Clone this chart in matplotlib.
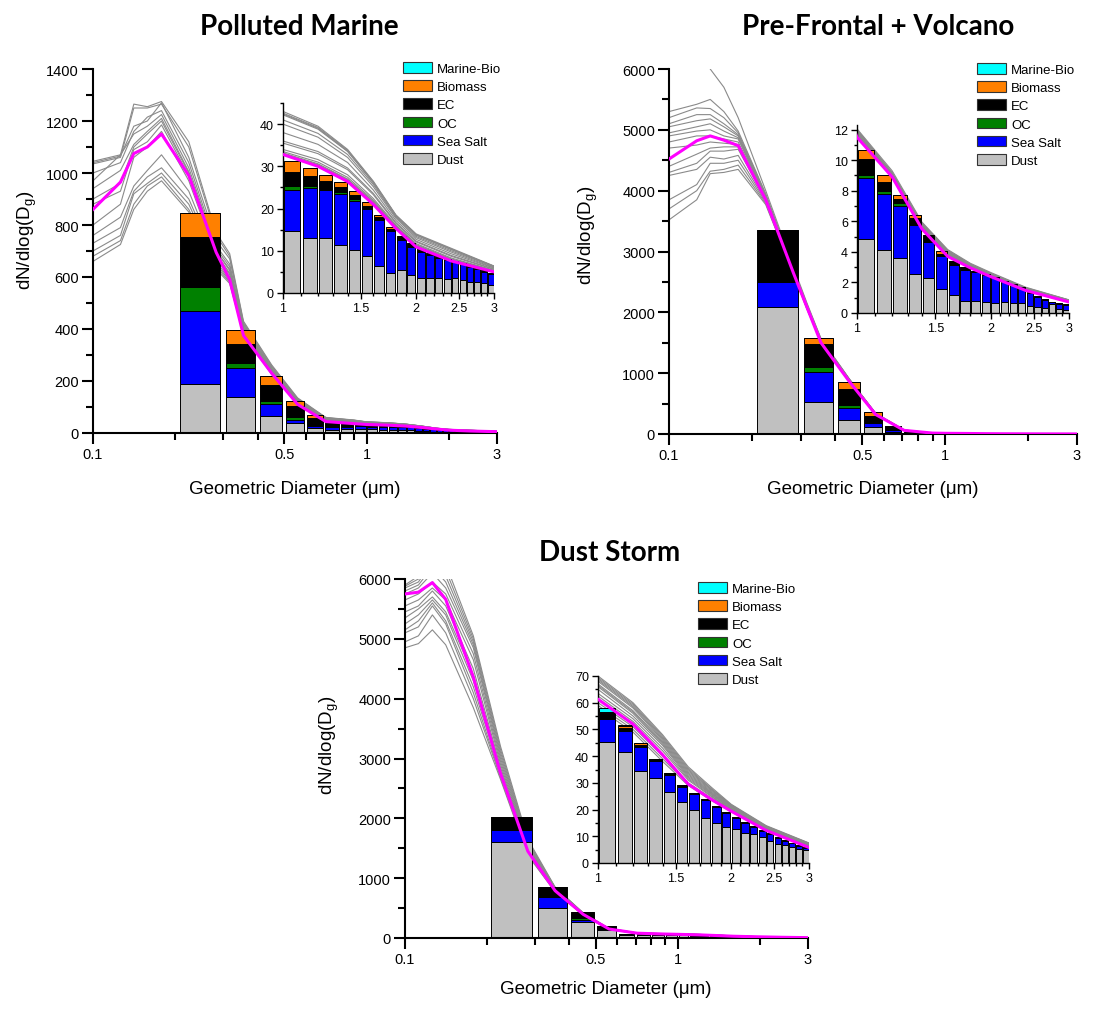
import numpy as np
import matplotlib
matplotlib.use('Agg')
import matplotlib.pyplot as plt
from matplotlib.patches import Patch
from matplotlib.ticker import FixedLocator, FixedFormatter, MultipleLocator, NullFormatter

plt.rcParams['font.family'] = ['Liberation Sans', 'DejaVu Sans']

# size bins (um), 0.1 wide
bin_centers = [0.25, 0.35, 0.45, 0.55, 0.65, 0.75, 0.85, 0.95, 1.05, 1.15, 1.25, 1.35, 1.45, 1.55,
               1.65, 1.75, 1.85, 1.95, 2.05, 2.15, 2.25, 2.35, 2.45, 2.55, 2.65, 2.75, 2.85, 2.95]

# ---- Polluted Marine ----
pm_dust = [187, 138, 65, 38, 19, 13, 14, 14.5, 14.8, 13.0, 13.0, 11.3, 10.1, 8.8, 6.5, 4.8, 5.4, 4.3,
           3.6, 3.5, 3.6, 3.4, 3.5, 3.0, 2.6, 2.6, 2.4, 2.0]
pm_seasalt = [282, 112, 45, 13, 8, 10, 11, 11, 9.7, 11.8, 11.4, 12.2, 11.8, 11.0, 10.7, 9.8, 7.1, 6.6,
              6.2, 5.6, 4.7, 4.4, 3.8, 3.8, 3.5, 3.0, 2.6, 2.4]
pm_oc = [94, 21, 15, 10, 3, 2, 1.5, 1.0, 0.8, 0.6, 0.2, 0.4, 0.4, 0.3, 0.2, 0.1, 0.2, 0.1,
         0.1, 0.05, 0.05, 0.05, 0.05, 0.05, 0.05, 0.05, 0.05, 0.05]
pm_ec = [190, 72, 61, 43, 28, 15, 9, 5, 3.3, 2.4, 2.0, 1.1, 0.9, 0.6, 0.6, 0.5, 0.5, 0.7,
         0.4, 0.2, 0.3, 0.2, 0.2, 0.3, 0.3, 0.4, 0.3, 0.3]
pm_biomass = [92, 55, 35, 21, 10, 4, 3, 3, 2.7, 1.7, 1.3, 1.2, 1.0, 0.8, 0.5, 0.4, 0.3, 0.2,
              0.2, 0.05, 0.05, 0.05, 0.05, 0.05, 0.05, 0.05, 0.05, 0.05]
pm_marine = [0, 0, 0, 0, 0, 0, 0, 0, 0, 0, 0, 0, 0, 0, 0, 0, 0, 0, 0, 0, 0, 0, 0, 0, 0, 0, 0, 0]

pm_d = [0.1, 0.126, 0.141, 0.158, 0.178, 0.224, 0.282, 0.316, 0.355, 0.45, 0.56, 0.71, 0.9,
        1.0, 1.2, 1.4, 1.6, 1.8, 2.0, 2.4, 3.0]
pm_grey = [
    [1045, 1070, 1265, 1255, 1275, 1120, 770, 690, 430, 262, 135, 60, 50, 43.0, 39.5, 34.0, 26.5, 18.5, 14.0, 10.6, 6.4],
    [1040, 1065, 1180, 1200, 1270, 1060, 740, 670, 420, 255, 130, 58, 49, 42.6, 39.2, 33.8, 26.3, 18.4, 13.8, 10.4, 6.3],
    [1000, 1040, 1160, 1215, 1240, 1040, 720, 650, 415, 250, 128, 57, 48, 42.2, 38.8, 33.5, 26.1, 18.3, 13.7, 10.3, 6.3],
    [970, 1070, 1150, 1180, 1225, 1020, 710, 640, 410, 248, 126, 56, 47, 41.0, 37.8, 32.8, 25.7, 18.0, 13.4, 10.0, 6.2],
    [940, 1010, 1110, 1160, 1210, 1005, 700, 630, 405, 245, 125, 55, 46, 40.0, 36.9, 32.1, 25.2, 17.7, 13.1, 9.7, 6.0],
    [900, 960, 1100, 1150, 1200, 1000, 700, 625, 400, 242, 123, 54, 45, 38.0, 35.2, 30.9, 24.4, 17.2, 12.7, 9.3, 5.9],
    [880, 930, 1090, 1120, 1185, 990, 690, 615, 398, 240, 122, 53, 44, 36.0, 33.5, 29.6, 23.6, 16.7, 12.3, 8.9, 5.7],
    [800, 880, 1060, 1100, 1160, 970, 680, 610, 395, 238, 120, 52, 43, 35.5, 33.0, 29.2, 23.3, 16.5, 12.1, 8.7, 5.6],
    [760, 830, 950, 1010, 1070, 930, 670, 600, 392, 235, 118, 51, 42, 34.0, 31.6, 28.0, 22.4, 16.1, 11.7, 8.3, 5.4],
    [730, 790, 930, 985, 1020, 900, 660, 590, 388, 232, 116, 50, 41, 33.5, 31.0, 27.4, 22.0, 15.9, 11.5, 8.1, 5.3],
    [700, 760, 920, 960, 1000, 880, 650, 585, 385, 230, 115, 49, 40, 33.2, 30.6, 27.0, 21.7, 15.7, 11.3, 7.9, 5.2],
    [680, 740, 880, 950, 985, 860, 640, 580, 382, 228, 114, 48, 39, 33.0, 30.4, 26.8, 21.5, 15.6, 11.2, 7.8, 5.1],
    [660, 725, 860, 930, 970, 850, 630, 575, 380, 225, 112, 47, 38, 32.9, 30.2, 26.6, 21.3, 15.5, 11.1, 7.7, 5.1],
    [1035, 1060, 1250, 1250, 1265, 1100, 760, 680, 425, 258, 132, 59, 49, 42.4, 39.0, 33.6, 26.2, 18.3, 13.8, 10.4, 6.3],
]
pm_mean = [860, 965, 1075, 1100, 1150, 990, 695, 590, 375, 230, 110, 44, 36, 32.8, 30.0, 26.4, 21.0, 15.3, 10.9, 7.6, 5.0]

# ---- Pre-Frontal + Volcano ----
pv_dust = [2090, 520, 236, 120, 35, 8, 3, 2.5, 4.84, 4.14, 3.63, 2.54, 2.32, 1.6, 1.21, 0.81, 0.77, 0.7,
           0.68, 0.73, 0.64, 0.64, 0.46, 0.42, 0.35, 0.62, 0.28, 0.2]
pv_seasalt = [410, 505, 191, 61, 25, 10, 7, 6.5, 3.98, 3.66, 3.35, 3.24, 2.3, 2.16, 1.95, 2.03, 1.9, 1.78,
              1.6, 1.33, 1.2, 0.98, 0.88, 0.65, 0.5, 0.08, 0.33, 0.35]
pv_oc = [0, 71, 50, 22, 5, 2, 1, 0.5, 0.18, 0.2, 0.2, 0.05, 0.05, 0.02, 0, 0, 0, 0,
         0, 0, 0, 0, 0, 0, 0, 0, 0, 0]
pv_ec = [855, 383, 263, 87, 60, 15, 6, 3, 1.1, 0.56, 0.27, 0.4, 0.34, 0.1, 0.22, 0.15, 0.1, 0.07,
         0.05, 0.05, 0.05, 0.05, 0.04, 0.05, 0.05, 0.03, 0.03, 0.02]
pv_biomass = [0, 99, 109, 66, 12, 3, 2, 1, 0.54, 0.48, 0.26, 0.15, 0.11, 0.2, 0.05, 0.04, 0, 0,
              0, 0, 0, 0, 0, 0, 0, 0, 0, 0]
pv_marine = [0, 0, 0, 0, 0, 0, 0, 0, 0, 0, 0, 0, 0, 0, 0, 0, 0, 0, 0, 0, 0, 0, 0, 0, 0, 0, 0, 0]

pv_d = [0.1, 0.126, 0.141, 0.158, 0.178, 0.224, 0.282, 0.316, 0.355, 0.45, 0.56, 0.71, 0.9,
        1.0, 1.2, 1.4, 1.6, 1.8, 2.0, 2.4, 3.0]
nan = float('nan')
pv_grey = [
    [5300, 5420, 5500, 5300, 4980, 3950, 2720, 2130, 1560, 900, 340, 66, 16, 12.0, 9.2, 5.9, 4.1, 3.2, 2.6, 1.65, 0.85],
    [5200, 5360, 5350, 5200, 4950, 3930, 2710, 2120, 1555, 898, 338, 65, 16, 11.95, 9.15, 5.85, 4.05, 3.18, 2.58, 1.63, 0.84],
    [5100, 5250, 5250, 5100, 4920, 3920, 2700, 2110, 1550, 895, 336, 64, 16, 11.9, 9.1, 5.8, 4.0, 3.15, 2.55, 1.61, 0.83],
    [5050, 5150, 5180, 5050, 4900, 3910, 2690, 2100, 1545, 890, 334, 63, 15, 11.85, 9.05, 5.75, 3.98, 3.12, 2.52, 1.6, 0.82],
    [4950, 5050, 5100, 4980, 4870, 3900, 2680, 2095, 1540, 888, 332, 63, 15, 11.8, 9.0, 5.7, 3.95, 3.1, 2.5, 1.58, 0.81],
    [4900, 4980, 5000, 4900, 4850, 3890, 2675, 2090, 1538, 885, 330, 62, 15, 11.75, 8.98, 5.65, 3.92, 3.08, 2.48, 1.56, 0.8],
    [4800, 4900, 4900, 4850, 4800, 3880, 2670, 2085, 1535, 882, 328, 62, 15, 11.7, 8.96, 5.62, 3.9, 3.05, 2.46, 1.55, 0.79],
    [4700, 4750, 4800, 4780, 4760, 3870, 2665, 2080, 1530, 880, 326, 61, 15, 11.68, 8.94, 5.6, 3.88, 3.03, 2.44, 1.53, 0.78],
    [4400, 4600, 4700, 4720, 4720, 3860, 2660, 2075, 1528, 878, 325, 61, 15, 11.65, 8.92, 5.58, 3.85, 3.0, 2.42, 1.52, 0.77],
    [4300, 4450, 4650, 4650, 4680, 3850, 2655, 2070, 1525, 875, 324, 60, 15, 11.62, 8.91, 5.55, 3.82, 2.98, 2.4, 1.5, 0.76],
    [4250, 4350, 4550, 4520, 4580, 3830, 2650, 2065, 1520, 872, 322, 60, 15, 11.6, 8.9, 5.52, 3.8, 2.97, 2.39, 1.49, 0.75],
    [3850, 4100, 4450, 4450, 4500, 3810, 2645, 2060, 1518, 870, 320, 60, 15, 11.58, 8.9, 5.5, 3.78, 2.96, 2.38, 1.48, 0.74],
    [3700, 4000, 4320, 4350, 4420, 3790, 2640, 2055, 1515, 868, 318, 59, 15, 11.56, 8.9, 5.48, 3.76, 2.95, 2.37, 1.47, 0.73],
    [3520, 3850, 4280, 4300, 4350, 3770, 2635, 2050, 1510, 865, 316, 59, 15, 11.55, 8.9, 5.46, 3.75, 2.94, 2.36, 1.46, 0.72],
    [nan, nan, 6000, 5700, 5200, 4000, 2750, 2150, 1570, 905, 342, 67, 16, 12.05, 9.3, 5.95, 4.15, 3.25, 2.65, 1.68, 0.86],
]
pv_mean = [4520, 4820, 4900, 4830, 4740, 3850, 2650, 2080, 1500, 860, 320, 60, 15, 11.5, 8.9, 5.5, 3.7, 2.95, 2.38, 1.47, 0.72]

# ---- Dust Storm ----
ds_dust = [1610, 501, 262, 135, 55, 50, 48, 47, 45.4, 41.6, 34.3, 31.7, 26.6, 23.0, 19.8, 17.0, 14.9, 13.3,
           12.8, 11.4, 10.9, 9.6, 8.2, 7.0, 6.6, 6.1, 5.1, 5.0]
ds_seasalt = [200, 190, 45, 15, 6, 9, 9, 9, 8.5, 7.8, 9.0, 6.5, 6.5, 5.6, 5.9, 6.4, 6.1, 5.5,
              4.1, 3.5, 2.7, 2.5, 2.8, 2.5, 1.7, 1.2, 1.4, 0.8]
ds_oc = [0, 0, 30, 5, 0, 0.5, 0.5, 0.5, 0.5, 0.3, 0.3, 0.1, 0.1, 0.1, 0, 0, 0, 0,
         0, 0, 0, 0, 0, 0, 0, 0, 0, 0]
ds_ec = [206, 156, 75, 40, 8, 5, 4, 3, 1.8, 0.7, 0.7, 0.7, 0.5, 0.6, 0.5, 0.5, 0.4, 0.4,
         0.4, 0.3, 0.3, 0.3, 0.2, 0.2, 0.2, 0.2, 0.2, 0.2]
ds_biomass = [0, 0, 28, 7, 2, 0.5, 0.5, 0.5, 0.5, 0.8, 0.6, 0.1, 0, 0, 0, 0, 0, 0,
              0, 0, 0, 0, 0, 0, 0, 0, 0, 0]
ds_marine = [0, 0, 0, 0, 0, 0, 0, 0, 1.2, 0.6, 0.1, 0, 0, 0, 0, 0, 0, 0,
             0, 0, 0, 0, 0, 0, 0, 0, 0, 0]

ds_d = [0.1, 0.112, 0.126, 0.141, 0.178, 0.224, 0.282, 0.355, 0.45, 0.56, 0.71, 0.9,
        1.0, 1.2, 1.4, 1.6, 1.8, 2.0, 2.4, 3.0]
ds_grey = [
    [5900, 6050, 6500, 6250, 5050, 3200, 1650, 850, 420, 160, 85, 72, 70, 60, 48, 36, 28.5, 22, 14, 7.5],
    [5880, 6000, 6400, 6150, 5000, 3150, 1620, 845, 418, 158, 84, 71, 69.5, 59.5, 47.5, 35.5, 28, 21.8, 13.8, 7.4],
    [5850, 5950, 6300, 6050, 4950, 3100, 1600, 840, 415, 157, 83, 70, 69, 59, 47, 35, 27.7, 21.6, 13.6, 7.3],
    [5800, 5900, 6200, 5950, 4900, 3050, 1580, 835, 412, 155, 82, 70, 68.5, 58.5, 46.5, 34.5, 27.4, 21.4, 13.5, 7.2],
    [5750, 5850, 6100, 5850, 4850, 3000, 1560, 830, 410, 154, 82, 69, 68, 58, 46, 34, 27, 21.2, 13.3, 7.1],
    [5650, 5750, 5950, 5750, 4750, 2950, 1540, 820, 405, 152, 81, 68, 67, 57, 45.5, 33.5, 26.6, 21, 13.1, 7.0],
    [5550, 5650, 5850, 5650, 4650, 2900, 1520, 810, 400, 150, 80, 68, 66.5, 56.5, 45, 33, 26.3, 20.8, 13, 6.9],
    [5450, 5550, 5800, 5550, 4500, 2850, 1500, 800, 398, 149, 80, 67, 66, 56, 44.5, 32.5, 26, 20.5, 12.8, 6.8],
    [5350, 5500, 5700, 5450, 4400, 2800, 1480, 795, 395, 148, 79, 67, 65, 55, 44, 32, 25.7, 20.3, 12.7, 6.6],
    [5250, 5400, 5650, 5400, 4300, 2780, 1460, 790, 392, 146, 79, 66, 63.5, 54, 43, 31.5, 25.3, 20, 12.5, 6.4],
    [5150, 5300, 5600, 5300, 4200, 2750, 1440, 785, 390, 145, 78, 66, 62.5, 53, 42, 31, 25, 19.8, 12.4, 6.2],
    [5100, 5200, 5550, 5250, 4100, 2700, 1420, 780, 388, 144, 78, 65, 60, 51, 40, 30, 24.5, 19.6, 12.3, 6.0],
    [4950, 5050, 5400, 5100, 4000, 2680, 1400, 775, 385, 142, 77, 64, 59, 50, 39, 29.5, 24, 19.4, 12.2, 5.9],
    [4850, 4920, 5150, 4900, 3850, 2650, 1380, 770, 382, 140, 76, 63, 58, 49, 38, 29, 23.5, 19.2, 12.1, 5.8],
]
ds_mean = [5750, 5780, 5940, 5660, 4360, 2750, 1450, 790, 395, 150, 80, 66, 61.3, 52, 40.5, 29.5, 23.9, 19.4, 12.2, 5.8]

# stacking order bottom -> top, and legend order top -> bottom
comp_names = ['Dust', 'Sea Salt', 'OC', 'EC', 'Biomass', 'Marine-Bio']
comp_colors = ['#c0c0c0', '#0000ff', '#008000', '#000000', '#ff8000', '#00ffff']

W, H = 1114, 1012
fig = plt.figure(figsize=(W / 100, H / 100), dpi=100)


def rect(x0, x1, ytop, ybot):
    # pixel box -> figure fraction
    return [x0 / W, 1 - ybot / H, (x1 - x0) / W, (ybot - ytop) / H]


def style_axes(ax, lw, major_len, minor_len, fs):
    for s in ['top', 'right']:
        ax.spines[s].set_visible(False)
    for s in ['left', 'bottom']:
        ax.spines[s].set_linewidth(lw)
    ax.tick_params(which='major', direction='out', length=major_len, width=lw, labelsize=fs, pad=2)
    ax.tick_params(which='minor', direction='out', length=minor_len, width=lw)


def draw(ax, comps, d, grey, mean):
    bottom = np.zeros(len(bin_centers))
    for vals, c in zip(comps, comp_colors):
        vals = np.array(vals, dtype=float)
        ax.bar(bin_centers, vals, width=0.085, bottom=bottom, color=c,
               edgecolor='black', linewidth=0.7, zorder=2)
        bottom += vals
    for g in grey:
        ax.plot(d, g, color='#8a8a8a', lw=0.8, zorder=1)
    ax.plot(d, mean, color='#ff00ff', lw=2.2, zorder=3)


def panel(comps, d, grey, mean, main_box, inset_box, ymax, ystep, in_ymax, in_step, legend_xy,
          title, title_xy, ylab_xy, xlab_xy):
    ax = fig.add_axes(rect(*main_box))
    draw(ax, comps, d, grey, mean)
    ax.set_xscale('log')
    ax.set_xlim(0.1, 3)
    ax.set_ylim(0, ymax)
    ax.xaxis.set_major_locator(FixedLocator([0.1, 0.5, 1, 3]))
    ax.xaxis.set_major_formatter(FixedFormatter(['0.1', '0.5', '1', '3']))
    ax.xaxis.set_minor_locator(FixedLocator([0.2, 0.3, 0.4, 0.6, 0.7, 0.8, 0.9, 2]))
    ax.xaxis.set_minor_formatter(NullFormatter())
    ax.yaxis.set_major_locator(MultipleLocator(ystep))
    ax.yaxis.set_minor_locator(MultipleLocator(ystep / 2))
    style_axes(ax, 1.5, 8, 5, 10.5)

    axi = fig.add_axes(rect(*inset_box))
    draw(axi, comps, d, grey, mean)
    axi.set_xscale('log')
    axi.set_xlim(1, 3)
    axi.set_ylim(0, in_ymax)
    axi.xaxis.set_major_locator(FixedLocator([1, 1.5, 2, 2.5, 3]))
    axi.xaxis.set_major_formatter(FixedFormatter(['1', '1.5', '2', '2.5', '3']))
    axi.xaxis.set_minor_locator(FixedLocator([1.1, 1.2, 1.3, 1.4, 1.6, 1.7, 1.8, 1.9,
                                              2.1, 2.2, 2.3, 2.4, 2.6, 2.7, 2.8, 2.9]))
    axi.xaxis.set_minor_formatter(NullFormatter())
    axi.yaxis.set_major_locator(MultipleLocator(in_step))
    axi.yaxis.set_minor_locator(MultipleLocator(in_step / 2))
    style_axes(axi, 1.0, 4.5, 2.5, 9)

    handles = [Patch(facecolor=c, edgecolor='#333333', linewidth=0.8, label=n)
               for n, c in zip(comp_names[::-1], comp_colors[::-1])]
    fig.legend(handles=handles, loc='upper left',
               bbox_to_anchor=(legend_xy[0] / W, 1 - legend_xy[1] / H),
               frameon=False, fontsize=9.5, handlelength=2.2, handleheight=0.85,
               labelspacing=0.41, handletextpad=0.4, borderpad=0, borderaxespad=0)

    fig.text(title_xy[0] / W, 1 - title_xy[1] / H, title, family=['Lato', 'DejaVu Sans'],
             fontweight='bold', fontsize=20, ha='center', va='center')
    fig.text(ylab_xy[0] / W, 1 - ylab_xy[1] / H, r'dN/dlog(D$_\mathregular{g}$)',
             rotation=90, fontsize=13.5, ha='center', va='center')
    fig.text(xlab_xy[0] / W, 1 - xlab_xy[1] / H, 'Geometric Diameter (\u03bcm)',
             fontsize=13.5, ha='center', va='center')


panel([pm_dust, pm_seasalt, pm_oc, pm_ec, pm_biomass, pm_marine], pm_d, pm_grey, pm_mean,
      (93, 497, 70, 434), (283, 494, 104, 294), 1400, 200, 45, 10, (403, 63),
      'Polluted Marine', (299, 27), (27, 240), (295, 490))

panel([pv_dust, pv_seasalt, pv_oc, pv_ec, pv_biomass, pv_marine], pv_d, pv_grey, pv_mean,
      (669, 1077, 70, 435), (857, 1069, 126, 314), 6000, 1000, 12.3, 2, (977, 64),
      'Pre-Frontal + Volcano', (878, 27), (588, 235), (873, 490))

panel([ds_dust, ds_seasalt, ds_oc, ds_ec, ds_biomass, ds_marine], ds_d, ds_grey, ds_mean,
      (405, 808, 580, 939), (598, 809, 677, 864), 6000, 1000, 70, 10, (698, 583),
      'Dust Storm', (610, 553), (329, 745), (606, 990))

fig.savefig('out.png', dpi=100)
